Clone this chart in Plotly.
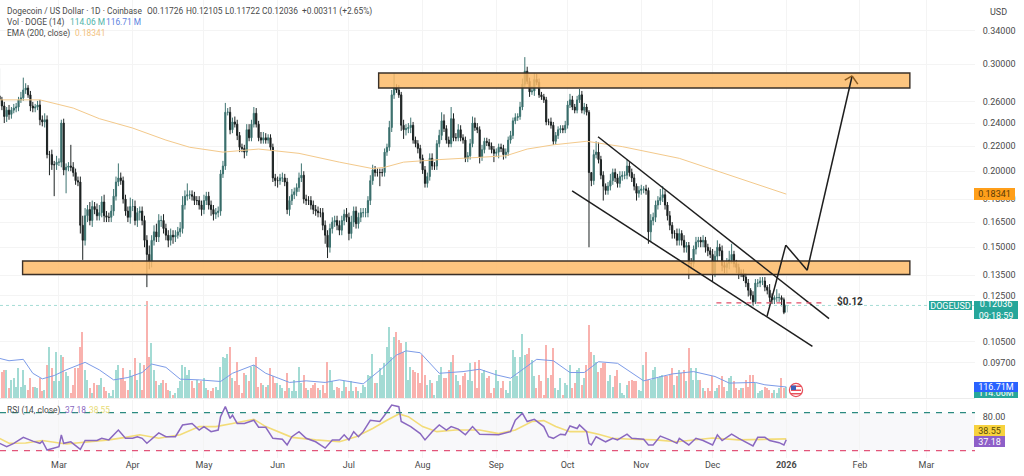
from datetime import datetime, timedelta
import plotly.graph_objects as go

start_date = datetime(2025, 2, 4)
first_open = 0.266
closes = [
.262,.256,.246,.252,.248,.252,.254,.255,.262,.264,
.272,.274,.267,.256,.254,.255,.257,.243,.241,.243,
.213,.213,.205,.205,.207,.207,.240,.201,.203,.204,
.203,.199,.193,.192,.163,.154,.169,.173,.166,.175,
.173,.169,.171,.178,.169,.168,.168,.172,.182,.192,
.195,.193,.180,.172,.168,.175,.175,.166,.171,.172,
.166,.154,.146,.142,.154,.159,.156,.166,.166,.161,
.157,.154,.157,.156,.157,.159,.161,.176,.182,.183,
.183,.182,.179,.179,.176,.173,.179,.182,.176,.173,
.170,.171,.172,.198,.204,.250,.250,.234,.241,.239,
.229,.219,.218,.215,.234,.227,.239,.249,.239,.227,
.225,.227,.225,.227,.219,.195,.193,.193,.195,.195,
.192,.173,.179,.183,.185,.188,.195,.197,.180,.179,
.179,.176,.173,.172,.171,.171,.163,.157,.150,.161,
.165,.166,.163,.160,.166,.170,.168,.158,.165,.172,
.164,.168,.171,.171,.171,.179,.193,.201,.199,.199,
.199,.199,.215,.219,.236,.267,.274,.272,.267,.238,
.234,.235,.236,.238,.225,.222,.218,.210,.201,.191,
.196,.210,.204,.204,.222,.229,.242,.235,.225,.222,
.244,.227,.227,.234,.227,.225,.210,.212,.222,.240,
.236,.234,.211,.217,.224,.223,.220,.217,.214,.215,
.219,.218,.213,.215,.225,.229,.242,.245,.246,.255,
.278,.292,.281,.270,.271,.283,.280,.267,.265,.262,
.241,.241,.238,.224,.229,.234,.235,.234,.238,.257,
.262,.255,.252,.262,.267,.252,.255,.250,.199,.193,
.213,.215,.209,.197,.189,.186,.189,.193,.199,.195,
.191,.196,.197,.197,.204,.199,.195,.189,.184,.186,
.187,.187,.186,.159,.166,.168,.176,.179,.181,.183,
.176,.169,.163,.158,.158,.154,.158,.154,.150,.151,
.141,.141,.149,.153,.154,.153,.154,.150,.148,.146,
.136,.145,.150,.148,.140,.139,.141,.143,.146,.141,
.139,.136,.136,.134,.131,.1275,.125,.122,.131,.131,
.132,.132,.129,.1275,.124,.123,.124,.124,.124,.123,
.11726,.12036]
# wick lengths in thousandths of a dollar, read per candle
upper_wicks = [
29,3,4,3,5,3,4,4,3,6, 13,5,3,4,4,3,4,5,4,6, 4,3,4,3,5,3,3,4,3,3,
17,4,3,3,4,6,5,3,5,4, 3,4,5,4,5,3,3,4,5,4, 11,4,3,3,3,6,5,4,3,3,
3,3,3,5,3,4,5,4,3,4, 3,3,4,3,3,3,4,6,4,8, 3,3,3,3,3,3,4,3,3,3,
3,3,3,3,4,9,4,5,4,5, 4,3,3,3,5,5,4,6,5,3, 5,5,4,3,3,3,3,3,3,4,
3,3,3,4,3,3,4,9,3,3, 3,3,3,3,3,3,3,3,3,3, 3,3,3,3,3,3,4,3,4,3,
3,3,3,3,3,3,4,4,3,3, 3,3,3,3,6,5,16,4,5,3, 5,4,4,7,3,3,3,3,3,3,
3,4,4,3,3,5,8,6,3,3, 11,5,4,5,4,3,3,3,4,6, 5,4,3,4,3,3,3,3,3,3,
3,3,3,3,3,4,3,4,3,5, 6,16,5,4,5,7,6,4,3,3, 3,3,4,3,3,3,3,3,4,4,
6,4,3,4,6,4,4,3,2,0, 4,9,8,3,3,2,3,5,3,3, 3,4,3,3,5,3,3,3,2,3,
3,2,3,2,4,3,3,3,6,6, 3,2,3,2,2,3,3,2,3,2, 2,3,2,3,2,2,3,2,2,2,
3,3,4,2,3,2,3,5,6,2, 2,2,2,2,2,2,1,2,2,2, 2,2,2,1,3,2,1,4,2,1,
1,0.69]
lower_wicks = [
4,4,6,5,5,4,3,4,4,3, 3,4,3,5,4,4,3,5,4,5, 3,16,4,23,4,3,4,4,17,3,
3,3,3,3,5,11,3,4,3,4, 3,3,3,3,4,3,3,3,3,3, 3,3,3,3,3,4,3,3,4,5,
3,4,17,4,3,3,3,3,4,3, 3,4,3,4,3,2,3,3,3,3, 3,3,3,3,3,4,3,3,3,4,
4,3,3,3,3,3,3,4,3,3, 4,4,3,5,3,3,3,3,3,3, 3,3,3,3,3,3,4,5,3,3,
3,3,4,3,3,3,3,3,3,3, 3,3,3,3,3,3,3,5,6,3, 3,3,3,3,3,3,3,4,3,3,
3,3,3,3,3,3,3,3,3,3, 10,3,3,3,3,4,4,3,3,5, 8,5,4,5,3,3,4,4,3,3,
3,3,3,3,3,3,4,3,3,3, 3,3,3,3,3,3,3,3,3,3, 3,3,5,3,3,3,3,3,7,3,
5,3,4,3,3,3,3,3,3,3, 3,3,3,5,3,5,3,3,3,3, 3,3,3,3,3,3,3,3,3,3,
3,3,3,3,3,3,4,3,49,4, 3,3,3,3,10,3,3,3,3,3, 3,3,3,3,3,3,3,3,5,3,
3,3,3,7,6,3,3,3,3,3, 3,3,3,3,3,3,3,3,3,3, 8,3,2,3,3,3,3,3,3,2,
4,2,3,3,3,3,3,3,2,2, 3,3,2,2,2,3,2,2,1,2, 2,2,2,2,2,2,2,2,2,3,
0.8,0.04]
volumes_m = [
595,280,300,300,105,190,210,120,315,120,
300,140,90,210,120,120,105,210,70,90,
350,540,315,175,490,175,455,440,280,230,
50,140,315,315,540,700,300,190,105,50,
160,140,140,210,120,70,50,20,90,300,
350,210,315,175,90,300,230,420,190,370,
90,350,1030,440,580,300,175,140,160,190,
160,90,70,35,50,105,175,350,330,245,
300,175,105,190,160,175,210,105,90,70,
105,120,90,330,440,420,470,540,210,175,
385,140,50,260,245,175,330,350,440,120,
160,140,120,140,315,230,160,160,140,105,
70,260,105,70,190,70,330,160,245,105,
90,105,140,160,105,90,140,50,385,300,
175,90,120,
105,70,175,120,70,175,70,120,70,50,
140,120,245,230,470,160,160,315,245,370,
540,750,440,650,700,610,580,490,595,190,
330,300,280,260,160,455,245,140,190,160,
35,175,245,330,210,210,300,385,455,245,
175,140,230,260,190,370,175,385,105,400,
260,300,210,230,50,105,300,175,105,175,
90,50,175,510,440,230,440,680,455,470,
525,400,230,105,245,175,35,560,210,245,
525,105,90,210,35,160,140,350,105,160,
300,315,140,210,350,770,490,455,385,280,
315,370,370,175,245,120,230,300,160,50,
35,140,175,190,175,175,90,70,350,490,
190,190,300,330,210,230,245,230,230,245,
315,140,230,
300,260,300,175,525,315,190,315,190,190,
105,70,105,70,230,70,105,140,230,120,
70,210,230,175,105,90,105,105,190,120,
245,245,160,50,70,90,120,105,90,50,
90,50,105,210,105,114]

vol_ma_days = [0,4,10,14,18,23,28,36,42,48,54,60,64,70,76,84,93,98,107,112,122,129,137,143,
               153,161,167,171,177,185,195,202,209,215,226,233,240,246,252,260,271,283,
               292,301,307,318,322,331]
vol_ma_values = [420,395,410,262,203,238,298,378,298,192,217,270,360,325,200,192,175,262,350,262,165,182,165,192,
                 150,315,455,500,480,262,280,305,245,210,410,395,270,270,385,368,182,255,
                 280,228,158,165,140,116.71]

ema_days = [0,17,31,42,56,70,80,94,109,126,143,157,162,170,185,199,213,222,233,247,262,286,331]
ema_values = [.262,.262,.254,.244,.2355,.225,.219,.215,.2175,.214,.207,.202,.203,.207,.209,.2105,.212,.2175,.221,.224,.2195,.210,.18341]

rsi_days = [0,3,6,10,14,17,18,20,25,26,27,30,34,36,41,43,46,50,53,56,58,60,62,65,67,70,74,77,81,84,86,89,92,93,95,97,98,100,103,107,109,112,115,119,121,123,126,129,133,137,140,
            143,145,147,149,151,153,156,160,162,165,168,169,173,177,179,182,185,188,190,193,196,199,202,206,210,215,217,220,222,225,229,231,233,236,238,240,243,244,247,248,249,251,255,258,260,264,266,271,273,275,278,282,285,
            286,290,293,296,300,302,304,308,311,317,319,322,324,328,330,331]
rsi_values = [31.6,26.3,31.6,41,35,31.6,35,21,26.3,45,31.6,34,22,36,36,39.5,37,52.6,39.5,39.5,42,39.5,31.6,42,48,42,42,60.5,63,52.6,58,50,52.6,73.7,89.5,71,76,63,63,68,57,57,39.5,38,29,42,50,39.5,34,24,37,
              37,45,37,50,42,50,68,66,76,92,89.5,66,58,47,37,50,60.5,52.6,58,54,45,58,46,46,45,50,68,79,66,69.5,58,42,39.5,46,45,59,55,60.5,50,31.6,29,42,34,39.5,37,46,39.5,38,29,29,43,37,31.6,
              39.5,29,39.5,36,29,45,36,46,39.5,27.4,41,41,36,32.6,29,37.18]
rsi_ma_days = [0,4,11,18,28,38,46,53,59,67,76,84,91,98,107,112,123,133,143,150,157,163,168,172,178,184,192,202,210,217,224,229,234,240,247,252,258,266,276,285,300,311,331]
rsi_ma_values = [39.5,31.6,32,36,30.5,34,37,41,45,39.5,45,58,58,63,69.5,58,41,37,34,42,55,68,78,73.7,58,50,52.6,52.6,47,52.6,66,67.4,58,50,50,46,39.5,38,37,34,40,37,38.55]

zone_top_prices = [0.290, 0.274]
zone_top_days = [159.5, 383]
zone_low_prices = [0.1424, 0.1353]
zone_low_days = [9.7, 383]
channel_up_days = [251.8, 349]
channel_up_prices = [0.2279, 0.1145]
channel_low_days = [240.9, 342]
channel_low_prices = [0.1857, 0.1031]
path_days = [322.9, 330.8, 339.8, 358.7]
path_prices = [0.1155, 0.1512, 0.1375, 0.2868]
head_days = [355.6, 358.7, 361.1]
head_prices = [0.2824, 0.2868, 0.2781]
target_days = [301.6, 347.6]
target_price = 0.1215
last_price = 0.12036

price_ticks = [0.34,0.30,0.26,0.24,0.22,0.20,0.18,0.165,0.15,0.135,0.125,0.105,0.097]
month_ticks = ["2025-03-01","2025-04-01","2025-05-01","2025-06-01","2025-07-01","2025-08-01","2025-09-01","2025-10-01","2025-11-01","2025-12-01","2026-01-01","2026-02-01","2026-03-01"]
month_labels = ["Mar","Apr","May","Jun","Jul","Aug","Sep","Oct","Nov","Dec","<b>2026</b>","Feb","Mar"]

W, H, PB, PR = 1024, 476, 18, 49
PW, PH = W - PR, H - PB
def fx(x): return x / PW
def fy(y): return 1 - y / PH
def day(d): return start_date + timedelta(days=d)

dates = [day(i) for i in range(len(closes))]
opens = [first_open] + closes[:-1]
highs = [max(o, c) + u / 1000 for o, c, u in zip(opens, closes, upper_wicks)]
lows = [min(o, c) - l / 1000 for o, c, l in zip(opens, closes, lower_wicks)]
assert len(highs) == len(lows) == len(closes) == len(volumes_m), (len(highs), len(lows), len(closes), len(volumes_m))
assert len(rsi_days) == len(rsi_values) and len(rsi_ma_days) == len(rsi_ma_values), (len(rsi_days), len(rsi_values), len(rsi_ma_days), len(rsi_ma_values))
assert len(vol_ma_days) == len(vol_ma_values) and len(ema_days) == len(ema_values), (len(vol_ma_days), len(vol_ma_values), len(ema_days), len(ema_values))
vol_colors = ["#a3dbd4" if c >= o else "#f9b2ae" for o, c in zip(opens, closes)]

FONT = "Roboto"
TXT = "#4a4a4a"
GRID = "#f4f4f4"

fig = go.Figure()
fig.add_trace(go.Bar(x=dates, y=volumes_m, marker=dict(color=vol_colors, line_width=0), width=86400000*0.62, yaxis="y2", xaxis="x"))
fig.add_trace(go.Scatter(x=[day(d) for d in vol_ma_days], y=vol_ma_values, mode="lines", line=dict(color="#7c9be8", width=1), yaxis="y2", xaxis="x"))
fig.add_trace(go.Scatter(x=[day(d) for d in ema_days], y=ema_values, mode="lines", line=dict(color="#f3c98b", width=1), yaxis="y", xaxis="x"))
fig.add_trace(go.Candlestick(x=dates, open=opens, high=highs, low=lows, close=closes,
    increasing=dict(line=dict(color="#3d7370", width=1), fillcolor="#2c5a58"),
    decreasing=dict(line=dict(color="#1c2222", width=1), fillcolor="#141818"),
    whiskerwidth=0, yaxis="y", xaxis="x"))
fig.add_trace(go.Scatter(x=[day(d) for d in rsi_ma_days], y=rsi_ma_values, mode="lines", line=dict(color="#f3dc78", width=1.6), yaxis="y3", xaxis="x"))
fig.add_trace(go.Scatter(x=[day(d) for d in rsi_days], y=rsi_values, mode="lines", line=dict(color="#8a68c0", width=1.5), yaxis="y3", xaxis="x"))

shapes = []
def seg(days, prices, color, width=1.5, dash="solid"):
    for i in range(len(days) - 1):
        shapes.append(dict(type="line", xref="x", yref="y", x0=day(days[i]), x1=day(days[i+1]), y0=prices[i], y1=prices[i+1],
                           line=dict(color=color, width=width, dash=dash), layer="above"))

# RSI band and reference lines
shapes.append(dict(type="rect", xref="paper", yref="y3", x0=0, x1=1, y0=20, y1=80, fillcolor="#f8f8fa", line_width=0, layer="below"))
shapes.append(dict(type="line", xref="paper", yref="y3", x0=0, x1=1, y0=80, y1=80, line=dict(color="#2b8a80", width=1.2, dash="6px,6px")))
shapes.append(dict(type="line", xref="paper", yref="y3", x0=0, x1=1, y0=20, y1=20, line=dict(color="#e2557a", width=1.2, dash="6px,6px")))
shapes.append(dict(type="line", xref="paper", yref="paper", x0=0, x1=1, y0=fy(398.5), y1=fy(398.5), line=dict(color="#ececec", width=1)))
# price line
shapes.append(dict(type="line", xref="paper", yref="y", x0=0, x1=1, y0=last_price, y1=last_price, line=dict(color="#a5dcd5", width=1, dash="dot")))
# zones
for dd, pp in ((zone_top_days, zone_top_prices), (zone_low_days, zone_low_prices)):
    shapes.append(dict(type="rect", xref="x", yref="y", x0=day(dd[0]), x1=day(dd[1]), y0=pp[1], y1=pp[0],
                       fillcolor="rgba(253,186,102,0.84)", line=dict(color="#3a3028", width=1.4), layer="above"))
seg(channel_up_days, channel_up_prices, "#1e1e1e")
seg(channel_low_days, channel_low_prices, "#1e1e1e")
seg(path_days, path_prices, "#1e1e1e")
seg(head_days, head_prices, "#8a5a20")
seg(target_days, [target_price, target_price], "#e0506a", 1.2, "5px,5px")

# flag marker
def pxcirc(cx, cy, r, **kw):
    shapes.append(dict(type="circle", xref="paper", yref="paper", x0=fx(cx-r), x1=fx(cx+r), y0=fy(cy+r), y1=fy(cy-r), **kw))
def pxrect(x0, y0, x1, y1, color):
    shapes.append(dict(type="rect", xref="paper", yref="paper", x0=fx(x0), x1=fx(x1), y0=fy(y1), y1=fy(y0), fillcolor=color, line_width=0))
pxcirc(796, 390, 6.6, fillcolor="#ffffff", line=dict(color="#e8505b", width=1.2))
pxrect(791, 385.5, 801, 387, "#e8505b")
pxrect(791, 389.5, 801, 391, "#e8505b")
pxrect(791, 393, 801, 394.5, "#e8505b")
pxrect(791, 385.5, 796, 390, "#3c5fb8")

anns = []
def label(x, y, text, color=TXT, size=8.4, **kw):
    anns.append(dict(xref="paper", yref="paper", x=fx(x), y=fy(y), text=text, showarrow=False, xanchor=kw.pop("xanchor", "left"), yanchor="middle",
                     font=dict(family=FONT, size=size, color=color), **kw))
def badge(x0, x1, y0, y1, text, bg, color="#ffffff"):
    anns.append(dict(xref="paper", yref="paper", x=fx(x0), y=fy((y0+y1)/2), text=text, showarrow=False, xanchor="left", yanchor="middle",
                     width=x1-x0, height=y1-y0, bgcolor=bg, align="center", valign="middle", borderpad=0, borderwidth=0,
                     font=dict(family=FONT, size=9, color=color)))

label(5, 11, "Dogecoin / US Dollar · 1D · Coinbase")
label(145, 11, "O0.11726"); label(184, 11, "H0.12105"); label(223, 11, "L0.11722"); label(260, 11, "C0.12036")
label(300, 11, "+0.00311 (+2.65%)")
label(5, 22, "Vol · DOGE (14)")
label(68, 22, "114.06 M", "#4fb3a8"); label(104, 22, "116.71 M", "#5b7fe0")
label(5, 33, "EMA (200, close)")
label(73, 33, "0.18341", "#f2c27e")
label(5, 410, "RSI (14, close)")
label(63, 410, "37.18", "#8a68c0"); label(87, 410, "38.55", "#e8dc78")
label(988, 12, "USD", size=9)
label(835, 301, "<b>$0.12</b>", "#333333", 10)

badge(974, 1015, 188, 200, "0.18341", "#ff9f1a", "#5a3a08")
badge(929, 972, 301, 310, "DOGEUSD", "#26a69a")
badge(974, 1018, 301, 319, "0.12036<br>09:18:59", "#26a69a")
badge(974, 1018, 388, 398, "114.06M", "#26a69a")
badge(974, 1018, 382, 392, "116.71M", "#2962ff")
badge(974, 1005, 425, 436, "38.55", "#f7d23e", "#5a4a08")
badge(974, 1005, 436, 447, "37.18", "#8e5fc8")

tickfont = dict(family=FONT, size=9, color=TXT)
fig.update_layout(
    width=W, height=H, margin=dict(l=0, r=PR, t=0, b=PB), showlegend=False,
    paper_bgcolor="#ffffff", plot_bgcolor="rgba(0,0,0,0)", bargap=0, barmode="overlay",
    shapes=shapes, annotations=anns, font=dict(family=FONT),
    xaxis=dict(type="date", anchor="y3", domain=[0, 1], range=[day(0.2), day(410.4)], rangeslider=dict(visible=False),
               tickmode="array", tickvals=month_ticks, ticktext=month_labels, tickfont=tickfont, ticks="",
               showgrid=True, gridcolor=GRID, gridwidth=1, showline=False, zeroline=False),
    yaxis=dict(type="log", domain=[fy(398), 1], range=[-1.0716, -0.4176], side="right", anchor="x",
               tickmode="array", tickvals=price_ticks, ticktext=[f"{p:.5f}" for p in price_ticks], tickfont=tickfont,
               ticks="outside", ticklen=5, tickcolor="rgba(0,0,0,0)", showgrid=True, gridcolor=GRID, gridwidth=1, zeroline=False, showline=False),
    yaxis2=dict(domain=[fy(398), fy(290)], range=[0, 1145], anchor="x", side="right", showticklabels=False, showgrid=False, zeroline=False, showline=False),
    yaxis3=dict(domain=[0, fy(400)], range=[8.4, 100], anchor="x", side="right", tickmode="array", tickvals=[80], ticktext=["80.00"], tickfont=tickfont,
                ticks="outside", ticklen=5, tickcolor="rgba(0,0,0,0)", ticklabelshift=4, showgrid=False, zeroline=False, showline=False),
)
fig.write_html("out.html", config=dict(displayModeBar=False), post_script="document.body.style.margin='0';")
